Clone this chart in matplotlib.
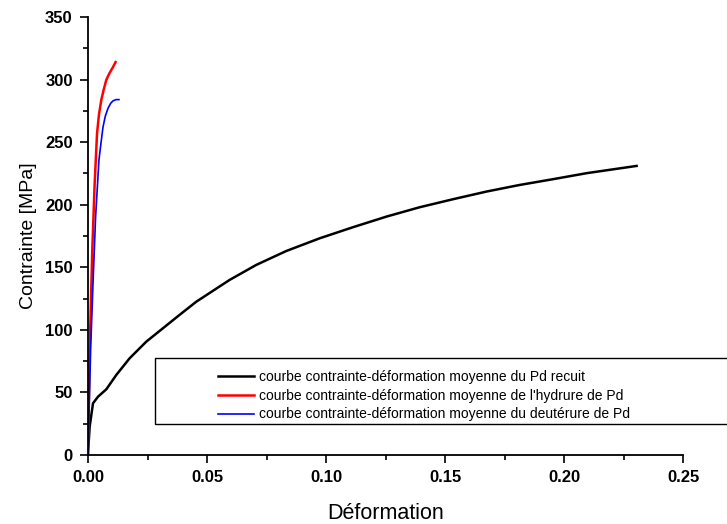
import matplotlib.pyplot as plt
from matplotlib.patches import Rectangle
from matplotlib.ticker import MultipleLocator

plt.rcParams['font.family'] = ['Liberation Sans', 'DejaVu Sans']

# courbe du Pd recuit
recuit_def = [0.0, 0.0007, 0.0021, 0.0042, 0.0077, 0.0119, 0.0175, 0.0245, 0.0315,
              0.0385, 0.0455, 0.0595, 0.0707, 0.0833, 0.0974, 0.1113, 0.1254,
              0.1394, 0.1534, 0.1674, 0.1814, 0.1954, 0.2095, 0.2305]
recuit_con = [1.6, 22.6, 41.3, 46.6, 52.5, 64, 77.3, 90.6, 101.3,
              112, 122.5, 139.9, 151.9, 163.0, 173.2, 182, 190.5,
              198, 204.4, 210.5, 215.8, 220.4, 225.2, 231]

# hydrure de Pd
hydrure_def = [0.0, 0.0007, 0.0018, 0.0028, 0.0038, 0.0046, 0.0056, 0.0066, 0.0077,
               0.009, 0.0105, 0.0116]
hydrure_con = [0, 84, 164, 217, 257, 272, 283.8, 292, 299.8, 305, 310, 314]

# deutérure de Pd
deut_def = [0.0, 0.0004, 0.0011, 0.0021, 0.0032, 0.0046, 0.0055, 0.0063, 0.0073,
            0.0084, 0.0095, 0.0105, 0.0118, 0.013]
deut_con = [0, 30.6, 84, 137, 190.5, 235.8, 250, 262, 271, 277, 281, 283, 284, 284]

labels = ["courbe contrainte-déformation moyenne du Pd recuit",
          "courbe contrainte-déformation moyenne de l'hydrure de Pd",
          "courbe contrainte-déformation moyenne du deutérure de Pd"]

W, H = 727, 524
fig = plt.figure(figsize=(W / 100, H / 100), dpi=100)
ax = fig.add_axes([88 / W, 1 - 455 / H, (683 - 88) / W, (455 - 17) / H])

l1, = ax.plot(recuit_def, recuit_con, color='black', lw=1.8)
l2, = ax.plot(hydrure_def, hydrure_con, color='red', lw=1.8)
l3, = ax.plot(deut_def, deut_con, color='blue', lw=1.2)

ax.set_xlim(0, 0.25)
ax.set_ylim(0, 350)
ax.xaxis.set_major_locator(MultipleLocator(0.05))
ax.xaxis.set_minor_locator(MultipleLocator(0.025))
ax.yaxis.set_major_locator(MultipleLocator(50))
ax.yaxis.set_minor_locator(MultipleLocator(25))
ax.set_xticklabels([f"{v:.2f}" for v in ax.get_xticks()])

ax.spines['top'].set_visible(False)
ax.spines['right'].set_visible(False)
for s in ('left', 'bottom'):
    ax.spines[s].set_linewidth(1.3)
ax.tick_params(which='major', direction='out', length=6, width=1.2, labelsize=12, pad=5)
ax.tick_params(which='minor', direction='out', length=3.5, width=1.2)
for t in ax.get_xticklabels() + ax.get_yticklabels():
    t.set_fontweight('bold')

ax.set_xlabel("Déformation", fontsize=15.5, labelpad=13)
ax.set_ylabel("Contrainte [MPa]", fontsize=14, labelpad=6)

# cadre de la légende (déborde à droite comme l'original)
fig.patches.append(Rectangle((155 / W, 1 - 424 / H), (760 - 155) / W, (424 - 358) / H,
                             transform=fig.transFigure, fill=False, edgecolor='black',
                             lw=1.0, clip_on=False))
fig.legend([l1, l2, l3], labels, loc='upper left', frameon=False,
           bbox_to_anchor=(208 / W, 1 - 360 / H), fontsize=10,
           handlelength=2.6, handletextpad=0.4, labelspacing=0.35,
           borderpad=0.2)

fig.savefig('out.png', dpi=100)
